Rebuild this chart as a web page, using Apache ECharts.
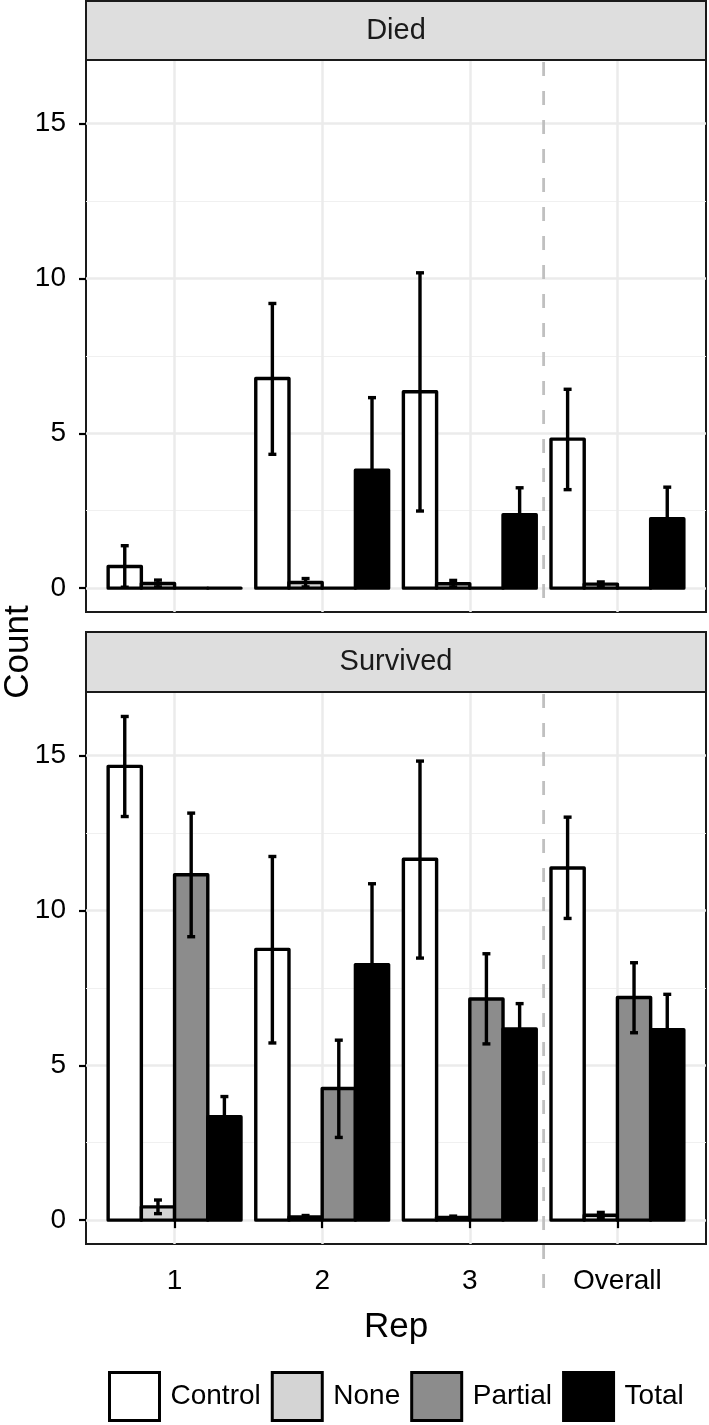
<!DOCTYPE html>
<html><head><meta charset="utf-8">
<script src="https://cdn.jsdelivr.net/npm/echarts@6/dist/echarts.min.js"></script>
<style>html,body{margin:0;padding:0;background:#fff}#chart{width:709px;height:1425px}</style>
</head><body><div id="chart"></div>
<script>
// ---------- data ----------
const categories = ['1', '2', '3', 'Overall'];
const treatments = ['Control', 'None', 'Partial', 'Total'];
const panels = ['Died', 'Survived'];
const yTicks = [0, 5, 10, 15];
const yMinorTicks = [2.5, 7.5, 12.5];
const separatorAt = 3.5;

// Died panel: means, lower and upper error bounds (null = no error bar)
const diedControl   = [0.70, 6.77, 6.34, 4.81];
const diedControlLo = [0.03, 4.32, 2.49, 3.18];
const diedControlHi = [1.37, 9.19, 10.18, 6.42];
const diedNone      = [0.15, 0.18, 0.14, 0.13];
const diedNoneLo    = [0.04, 0.04, 0.04, 0.07];
const diedNoneHi    = [0.26, 0.31, 0.25, 0.20];
const diedPartial   = [0, 0, 0, 0];
const diedPartialLo = [null, null, null, null];
const diedPartialHi = [null, null, null, null];
const diedTotal     = [0, 3.81, 2.37, 2.24];
const diedTotalLo   = [null, 1.47, 1.50, 1.22];
const diedTotalHi   = [null, 6.15, 3.24, 3.26];

// Survived panel
const survControl   = [14.65, 8.74, 11.65, 11.37];
const survControlLo = [13.03, 5.72, 8.46, 9.74];
const survControlHi = [16.26, 11.74, 14.82, 13.01];
const survNone      = [0.43, 0.10, 0.09, 0.16];
const survNoneLo    = [0.21, 0.05, 0.05, 0.07];
const survNoneHi    = [0.65, 0.15, 0.13, 0.25];
const survPartial   = [11.15, 4.25, 7.14, 7.19];
const survPartialLo = [9.15, 2.67, 5.69, 6.05];
const survPartialHi = [13.14, 5.81, 8.60, 8.31];
const survTotal     = [3.34, 8.25, 6.17, 6.15];
const survTotalLo   = [2.69, 5.64, 5.35, 5.01];
const survTotalHi   = [3.99, 10.86, 6.99, 7.29];

const panelData = [
  { mean: [diedControl, diedNone, diedPartial, diedTotal],
    lo:   [diedControlLo, diedNoneLo, diedPartialLo, diedTotalLo],
    hi:   [diedControlHi, diedNoneHi, diedPartialHi, diedTotalHi] },
  { mean: [survControl, survNone, survPartial, survTotal],
    lo:   [survControlLo, survNoneLo, survPartialLo, survTotalLo],
    hi:   [survControlHi, survNoneHi, survPartialHi, survTotalHi] }
];

// ---------- style ----------
const FONT = 'Liberation Sans, Arial, Helvetica, sans-serif';
const fills = { Control: '#ffffff', None: '#d4d4d4', Partial: '#8c8c8c', Total: '#000000' };
const Y_MIN = -0.77, Y_MAX = 17.05;
const X_MIN = 0.4, X_MAX = 4.6;
const dodge = 0.9, barW = dodge / treatments.length;
const capHalf = 0.027;
const SEP_BOTTOM = -2.6;
const gridTops = [60, 692];
const GRID_LEFT = 86, GRID_W = 620, GRID_H = 552;
const LW = 3.4;
const xPositions = categories.map((c, i) => i + 1);

function offset(k) { return -dodge / 2 + barW * (k + 0.5); }

const grids = gridTops.map(t => ({
  left: GRID_LEFT, top: t, width: GRID_W, height: GRID_H,
  show: true, backgroundColor: '#ffffff', borderColor: '#1a1a1a', borderWidth: 2,
  containLabel: false, outerBoundsMode: 'none'
}));

const xAxes = gridTops.map((t, p) => ({
  type: 'value', gridIndex: p, min: X_MIN, max: X_MAX,
  axisLine: { show: false },
  axisTick: { show: p === 1, length: 8, customValues: xPositions, lineStyle: { color: '#000', width: 2.2 } },
  axisLabel: { show: p === 1, customValues: xPositions, margin: 23, fontSize: 28, color: '#000', fontFamily: FONT,
               formatter: v => categories[Math.round(v) - 1] },
  splitLine: { show: true, lineStyle: { color: '#ebebeb', width: 2.5 } }
}));

const yAxes = [];
gridTops.forEach((t, p) => {
  yAxes.push({
    type: 'value', gridIndex: p, min: Y_MIN, max: Y_MAX, position: 'left',
    axisLine: { show: false },
    axisTick: { show: true, length: 7, customValues: yTicks, lineStyle: { color: '#000', width: 2.2 } },
    axisLabel: { show: true, customValues: yTicks, margin: 20, fontSize: 28, color: '#000', fontFamily: FONT },
    splitLine: { show: true, lineStyle: { color: '#ebebeb', width: 2.5 } }
  });
  yAxes.push({
    type: 'value', gridIndex: p, min: Y_MIN, max: Y_MAX, position: 'left',
    axisLine: { show: false },
    axisTick: { show: false, customValues: yMinorTicks },
    axisLabel: { show: false, customValues: yMinorTicks },
    splitLine: { show: true, lineStyle: { color: '#f0f0f0', width: 1.2 } }
  });
});

const series = [];
panelData.forEach((pd, p) => {
  // separator dashed line
  series.push({
    type: 'custom', xAxisIndex: p, yAxisIndex: p * 2, silent: true, z: 1, clip: false,
    data: [[separatorAt]],
    renderItem: (params, api) => {
      const x = api.value(0);
      const a = api.coord([x, Y_MAX]);
      const b = api.coord([x, p === 1 ? SEP_BOTTOM : Y_MIN]);
      return { type: 'line', shape: { x1: a[0], y1: a[1] + 2, x2: b[0], y2: b[1] },
               style: { stroke: '#c0c0c0', lineWidth: 2.8, lineDash: [14, 15] } };
    }
  });
  treatments.forEach((t, k) => {
    series.push({
      type: 'custom', name: t, xAxisIndex: p, yAxisIndex: p * 2, z: 3,
      itemStyle: { color: fills[t], borderColor: '#000', borderWidth: LW },
      encode: { x: 0, y: 1 },
      data: pd.mean[k].map((v, i) => [xPositions[i] + offset(k), v]),
      renderItem: (params, api) => {
        const x = api.value(0), v = api.value(1);
        const a = api.coord([x - barW / 2, 0]);
        const b = api.coord([x + barW / 2, v]);
        return { type: 'rect',
                 shape: { x: a[0], y: Math.min(a[1], b[1]), width: b[0] - a[0], height: Math.abs(a[1] - b[1]) },
                 style: { fill: fills[t], stroke: '#000', lineWidth: LW, lineJoin: 'round' } };
      }
    });
  });
  treatments.forEach((t, k) => {
    const d = [];
    pd.lo[k].forEach((l, i) => { if (l !== null) d.push([xPositions[i] + offset(k), l, pd.hi[k][i]]); });
    series.push({
      type: 'custom', name: t + ' error', xAxisIndex: p, yAxisIndex: p * 2, z: 4, silent: true,
      encode: { x: 0, y: [1, 2] },
      data: d,
      renderItem: (params, api) => {
        const x = api.value(0), lo = api.value(1), hi = api.value(2);
        const pl = api.coord([x, lo]), ph = api.coord([x, hi]);
        const c1 = api.coord([x - capHalf, hi]), c2 = api.coord([x + capHalf, hi]);
        const c3 = api.coord([x - capHalf, lo]), c4 = api.coord([x + capHalf, lo]);
        const st = { stroke: '#000', lineWidth: LW };
        return { type: 'group', children: [
          { type: 'line', shape: { x1: pl[0], y1: pl[1], x2: ph[0], y2: ph[1] }, style: st },
          { type: 'line', shape: { x1: c1[0], y1: c1[1], x2: c2[0], y2: c2[1] }, style: st },
          { type: 'line', shape: { x1: c3[0], y1: c3[1], x2: c4[0], y2: c4[1] }, style: st }
        ] };
      }
    });
  });
});

const graphics = [];
const stripTops = [1, 632];
panels.forEach((name, p) => {
  graphics.push({
    type: 'rect', silent: true, z: 10,
    shape: { x: GRID_LEFT, y: stripTops[p], width: GRID_W, height: gridTops[p] - stripTops[p] },
    style: { fill: '#dedede', stroke: '#1a1a1a', lineWidth: 2 }
  });
  graphics.push({
    type: 'text', silent: true, z: 11,
    x: GRID_LEFT + GRID_W / 2, y: (stripTops[p] + gridTops[p]) / 2,
    style: { text: name, fontSize: 29, fontFamily: FONT, fill: '#1a1a1a', align: 'center', verticalAlign: 'middle' }
  });
});
graphics.push({
  type: 'text', silent: true, x: 18, y: 652, rotation: Math.PI / 2,
  style: { text: 'Count', fontSize: 35, fontFamily: FONT, fill: '#000', align: 'center', verticalAlign: 'middle' }
});
graphics.push({
  type: 'text', silent: true, x: GRID_LEFT + GRID_W / 2, y: 1327,
  style: { text: 'Rep', fontSize: 35, fontFamily: FONT, fill: '#000', align: 'center', verticalAlign: 'middle' }
});

const chart = echarts.init(document.getElementById('chart'), null, { renderer: 'canvas' });
chart.setOption({
  animation: false,
  backgroundColor: '#ffffff',
  textStyle: { fontFamily: FONT },
  grid: grids,
  xAxis: xAxes,
  yAxis: yAxes,
  legend: {
    data: treatments, left: 108, top: 1371, orient: 'horizontal', padding: 0,
    icon: 'rect', itemWidth: 50, itemHeight: 48, itemGap: 10,
    itemStyle: { borderColor: '#000', borderWidth: 3 },
    textStyle: { fontSize: 28, color: '#000', fontFamily: FONT, padding: [0, 0, 0, 6] },
    selectedMode: false
  },
  graphic: graphics,
  series: series
});
</script></body></html>
